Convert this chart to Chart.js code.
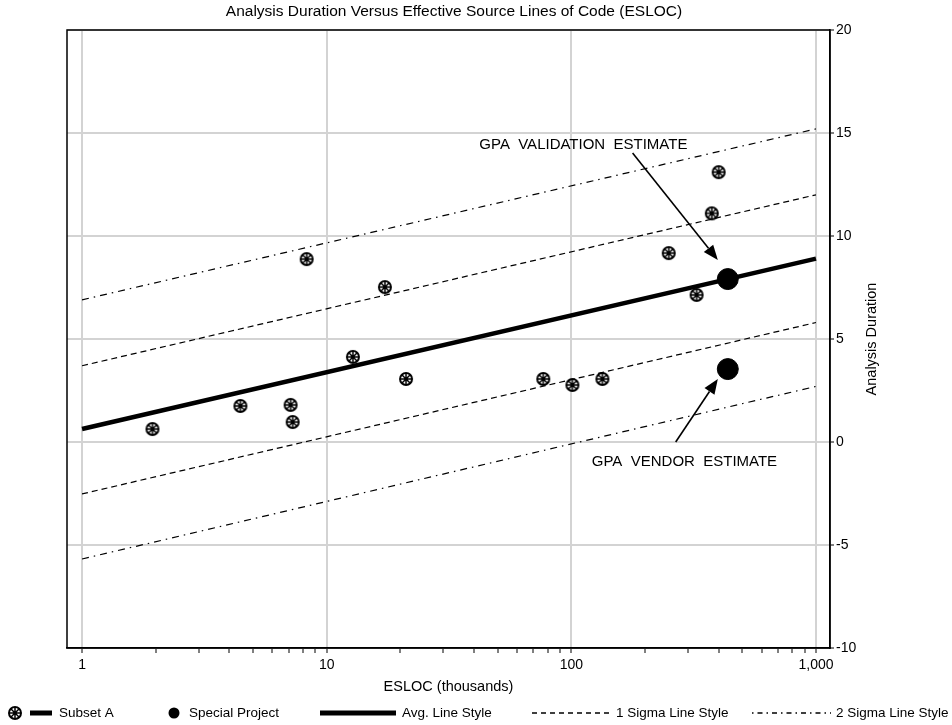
<!DOCTYPE html>
<html>
<head>
<meta charset="utf-8">
<script src="https://cdn.jsdelivr.net/npm/chart.js@4.4.0/dist/chart.umd.min.js"></script>
<style>
  html, body { margin: 0; padding: 0; background: #fff; }
  #wrap { width: 952px; height: 725px; }
</style>
</head>
<body>
<div id="wrap"><canvas id="chart" width="952" height="725"></canvas></div>
<script>
// ============ Data ============
const subsetX = [1.94, 4.44, 7.12, 7.26, 8.28, 12.8, 17.3, 21.1, 76.8, 101, 134, 250, 325, 375, 400];
const subsetY = [0.63, 1.75, 1.8, 0.97, 8.88, 4.13, 7.52, 3.06, 3.06, 2.77, 3.06, 9.17, 7.14, 11.1, 13.1];

const specialX = [436, 436];
const specialY = [7.91, 3.54];

// fitted lines, end points at ESLOC = 1 and 1,000
const lineX = [1, 1000];
const avgY = [0.63, 8.9];
const sigma1UpperY = [3.7, 12.0];
const sigma1LowerY = [-2.52, 5.8];
const sigma2UpperY = [6.9, 15.2];
const sigma2LowerY = [-5.68, 2.7];

const xDecades = [1, 10, 100, 1000];
const xMinorSteps = [2, 3, 4, 5, 6, 7, 8, 9];
const yTicks = [-10, -5, 0, 5, 10, 15, 20];

// annotations in data units: text centre, arrow start, arrow tip
const validationNote = { text: 'GPA  VALIDATION  ESTIMATE', at: [112, 14.42], from: [178, 14.03], to: [397, 8.83] };
const vendorNote = { text: 'GPA  VENDOR  ESTIMATE', at: [290, -0.97], from: [267, 0.0], to: [397, 3.06] };

// ============ Helpers ============
const FONT = '"Liberation Sans", Arial, sans-serif';

function toPoints(xs, ys) {
  return xs.map((x, i) => ({ x: x, y: ys[i] }));
}

function isDecade(v) {
  return xDecades.indexOf(v) !== -1;
}

function buildXTicks() {
  const ticks = [];
  xDecades.forEach((d, i) => {
    ticks.push({ value: d });
    if (i < xDecades.length - 1) {
      xMinorSteps.forEach(m => ticks.push({ value: d * m }));
    }
  });
  return ticks;
}

function makeMarker() {
  const c = document.createElement('canvas');
  c.width = 16; c.height = 16;
  const g = c.getContext('2d');
  g.strokeStyle = '#000';
  g.lineWidth = 2;
  g.beginPath(); g.arc(8, 8, 6, 0, Math.PI * 2); g.stroke();
  g.lineWidth = 1.5;
  for (let i = 0; i < 4; i++) {
    const a = i * Math.PI / 4;
    g.beginPath();
    g.moveTo(8 + 6 * Math.cos(a), 8 + 6 * Math.sin(a));
    g.lineTo(8 - 6 * Math.cos(a), 8 - 6 * Math.sin(a));
    g.stroke();
  }
  g.fillStyle = '#000';
  g.beginPath(); g.arc(8, 8, 2, 0, Math.PI * 2); g.fill();
  return c;
}

const marker = makeMarker();

function lineDataset(label, ys, width, dash) {
  return {
    label: label,
    data: toPoints(lineX, ys),
    showLine: true,
    borderColor: '#000',
    borderWidth: width,
    borderDash: dash,
    pointRadius: 0,
    fill: false
  };
}

function drawArrow(ctx, x1, y1, x2, y2) {
  const ang = Math.atan2(y2 - y1, x2 - x1);
  const len = 15, half = 6;
  ctx.save();
  ctx.strokeStyle = '#000';
  ctx.fillStyle = '#000';
  ctx.lineWidth = 1.6;
  ctx.beginPath();
  ctx.moveTo(x1, y1);
  ctx.lineTo(x2 - len * Math.cos(ang), y2 - len * Math.sin(ang));
  ctx.stroke();
  ctx.beginPath();
  ctx.moveTo(x2, y2);
  ctx.lineTo(x2 - len * Math.cos(ang) + half * Math.sin(ang), y2 - len * Math.sin(ang) - half * Math.cos(ang));
  ctx.lineTo(x2 - len * Math.cos(ang) - half * Math.sin(ang), y2 - len * Math.sin(ang) + half * Math.cos(ang));
  ctx.closePath();
  ctx.fill();
  ctx.restore();
}

function drawNote(chart, note) {
  const ctx = chart.ctx;
  const sx = chart.scales.x, sy = chart.scales.y;
  ctx.save();
  ctx.font = '15px ' + FONT;
  ctx.fillStyle = '#000';
  ctx.textAlign = 'center';
  ctx.textBaseline = 'middle';
  ctx.fillText(note.text, sx.getPixelForValue(note.at[0]), sy.getPixelForValue(note.at[1]));
  ctx.restore();
  drawArrow(ctx,
    sx.getPixelForValue(note.from[0]), sy.getPixelForValue(note.from[1]),
    sx.getPixelForValue(note.to[0]), sy.getPixelForValue(note.to[1]));
}

function drawLegend(ctx) {
  const y = 713;
  ctx.save();
  ctx.font = '13.5px ' + FONT;
  ctx.fillStyle = '#000';
  ctx.strokeStyle = '#000';
  ctx.textBaseline = 'middle';
  ctx.textAlign = 'left';

  // Subset A
  ctx.drawImage(marker, 7, y - 8);
  ctx.fillRect(30, y - 2.5, 22, 5);
  ctx.fillText('Subset A', 59, y);

  // Special Project
  ctx.beginPath(); ctx.arc(174, y, 5.5, 0, Math.PI * 2); ctx.fill();
  ctx.fillText('Special Project', 189, y);

  // Avg line
  ctx.fillRect(320, y - 2.5, 76, 5);
  ctx.fillText('Avg. Line Style', 402, y);

  // 1 sigma
  ctx.lineWidth = 1.3;
  ctx.setLineDash([5, 4]);
  ctx.beginPath(); ctx.moveTo(532, y); ctx.lineTo(612, y); ctx.stroke();
  ctx.setLineDash([]);
  ctx.fillText('1 Sigma Line Style', 616, y);

  // 2 sigma
  ctx.setLineDash([1.5, 4, 5, 4]);
  ctx.beginPath(); ctx.moveTo(752, y); ctx.lineTo(831, y); ctx.stroke();
  ctx.setLineDash([]);
  ctx.fillText('2 Sigma Line Style', 836, y);
  ctx.restore();
}

const framePlugin = {
  id: 'frame',
  afterDraw(chart) {
    const ctx = chart.ctx;
    const a = chart.chartArea;
    ctx.save();
    ctx.strokeStyle = '#000';
    ctx.lineWidth = 1.5;
    ctx.strokeRect(a.left, a.top, a.right - a.left, a.bottom - a.top);

    ctx.fillStyle = '#000';
    ctx.textAlign = 'center';
    ctx.textBaseline = 'middle';
    ctx.font = '15.5px ' + FONT;
    ctx.fillText('Analysis Duration Versus Effective Source Lines of Code (ESLOC)', 454, 12);
    ctx.font = '14.5px ' + FONT;
    ctx.fillText('ESLOC (thousands)', (a.left + a.right) / 2, 687);

    ctx.translate(872, (a.top + a.bottom) / 2);
    ctx.rotate(-Math.PI / 2);
    ctx.fillText('Analysis Duration', 0, 0);
    ctx.restore();

    drawNote(chart, validationNote);
    drawNote(chart, vendorNote);
    drawLegend(ctx);
  }
};

// ============ Chart ============
const chart = new Chart(document.getElementById('chart'), {
  type: 'scatter',
  data: {
    datasets: [
      {
        label: 'Subset A',
        data: toPoints(subsetX, subsetY),
        pointStyle: marker,
        pointRadius: 8,
        showLine: false
      },
      {
        label: 'Special Project',
        data: toPoints(specialX, specialY),
        pointStyle: 'circle',
        pointRadius: 10.5,
        backgroundColor: '#000',
        borderColor: '#000',
        showLine: false
      },
      lineDataset('Avg. Line Style', avgY, 4.5, []),
      lineDataset('1 Sigma Upper', sigma1UpperY, 1.2, [6, 4]),
      lineDataset('1 Sigma Lower', sigma1LowerY, 1.2, [6, 4]),
      lineDataset('2 Sigma Upper', sigma2UpperY, 1.2, [7, 5, 1.5, 5]),
      lineDataset('2 Sigma Lower', sigma2LowerY, 1.2, [7, 5, 1.5, 5])
    ]
  },
  options: {
    responsive: false,
    animation: false,
    layout: { padding: { top: 30, left: 67, right: 0, bottom: 0 } },
    plugins: {
      legend: { display: false },
      tooltip: { enabled: false },
      title: { display: false }
    },
    scales: {
      x: {
        type: 'logarithmic',
        position: 'bottom',
        min: 0.868,
        max: 1141,
        afterBuildTicks: s => { s.ticks = buildXTicks(); },
        afterFit: s => { s.height = 77; },
        border: { display: true, color: '#000', width: 1.5 },
        grid: {
          color: c => (c.tick && isDecade(c.tick.value)) ? '#d3d3d3' : 'rgba(0,0,0,0)',
          lineWidth: 2,
          tickColor: '#000',
          tickWidth: 1,
          tickLength: 5
        },
        ticks: {
          autoSkip: false,
          maxRotation: 0,
          padding: 4,
          color: '#000',
          font: { family: FONT, size: 14 },
          callback: v => isDecade(v) ? v.toLocaleString('en-US') : ''
        }
      },
      y: {
        position: 'right',
        min: -10,
        max: 20,
        afterBuildTicks: s => { s.ticks = yTicks.map(v => ({ value: v })); },
        afterFit: s => { s.width = 122; },
        border: { display: true, color: '#000', width: 1.5 },
        grid: {
          color: '#d3d3d3',
          lineWidth: 2,
          tickColor: '#000',
          tickWidth: 1,
          tickLength: 4
        },
        ticks: {
          padding: 2,
          color: '#000',
          font: { family: FONT, size: 14 }
        }
      }
    }
  },
  plugins: [framePlugin]
});
</script>
</body>
</html>
